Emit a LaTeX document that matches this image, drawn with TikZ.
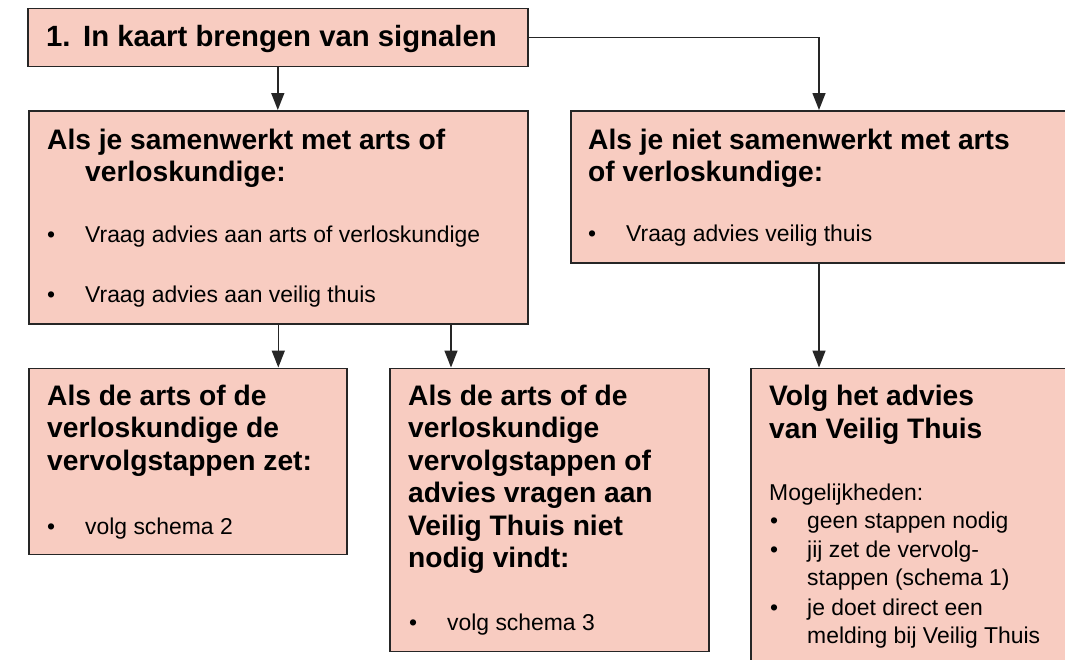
\documentclass[tikz,border=0pt]{standalone}
\usepackage{fontspec}
\setmainfont{Liberation Sans}
\usetikzlibrary{arrows.meta}

\definecolor{boxfill}{RGB}{248,204,193}
\definecolor{boxline}{RGB}{38,38,38}

\tikzset{
  box/.style={draw=boxline, fill=boxfill, line width=1.6pt, anchor=north west, inner sep=0pt},
  head/.style={font=\bfseries\fontsize{28.2}{32.5}\selectfont, align=left, anchor=base west, inner sep=0pt},
  toptitle/.style={head, font=\bfseries\fontsize{29.3}{33}\selectfont},
  body/.style={font=\fontsize{22.9}{28.5}\selectfont, align=left, anchor=base west, inner sep=0pt},
  link/.style={line width=1.5pt, draw=boxline, -{Triangle[width=13pt,length=17pt]}},
}

\begin{document}
\begin{tikzpicture}[x=1pt, y=-1pt]
  \useasboundingbox (0,0) rectangle (1065,659);
  \clip (0,0) rectangle (1065,659);

  % boxes
  \node[box, minimum width=500pt, minimum height=58pt]  (b0) at (27,7.5) {};
  \node[box, minimum width=499pt, minimum height=213pt] (b1) at (28,110) {};
  \node[box, minimum width=510pt, minimum height=152pt] (b2) at (570,110) {};
  \node[box, minimum width=318pt, minimum height=186pt] (b3) at (28,367.5) {};
  \node[box, minimum width=319pt, minimum height=283pt] (b4) at (389,367.5) {};
  \node[box, minimum width=330pt, minimum height=310pt] (b5) at (750,367.5) {};

  % top box (base = last line)
  \node[toptitle] (t0n) at (46,46) {1.};
  \node[toptitle] (t0) at (83,46) {In kaart brengen van signalen};

  % samenwerken
  \node[head] (t1) at (47,181.5) {Als je samenwerkt met arts of\\\hspace*{38pt}verloskundige:};
  \node[body] (t1d1) at (47,242) {•};
  \node[body] (t1a) at (85,242) {Vraag advies aan arts of verloskundige};
  \node[body] (t1d2) at (47,302) {•};
  \node[body] (t1b) at (85,302) {Vraag advies aan veilig thuis};

  % niet samenwerken
  \node[head] (t2) at (588,181.5) {Als je niet samenwerkt met arts\\of verloskundige:};
  \node[body] (t2d1) at (588,241) {•};
  \node[body] (t2a) at (626,241) {Vraag advies veilig thuis};

  % arts zet stappen
  \node[head] (t3) at (47,470) {Als de arts of de\\verloskundige de\\vervolgstappen zet:};
  \node[body] (t3d1) at (47,534) {•};
  \node[body] (t3a) at (85,534) {volg schema 2};

  % arts vindt niet nodig
  \node[head] (t4) at (408,567.5) {Als de arts of de\\verloskundige\\vervolgstappen of\\advies vragen aan\\Veilig Thuis niet\\nodig vindt:};
  \node[body] (t4d1) at (409,630) {•};
  \node[body] (t4a) at (447,630) {volg schema 3};

  % advies veilig thuis
  \node[head] (t5) at (769,438) {Volg het advies\\van Veilig Thuis};
  \node[body] (t5m) at (769,500) {Mogelijkheden:};
  \node[body] (t5d1) at (770,528) {•};
  \node[body] (t5a) at (807,528) {geen stappen nodig};
  \node[body] (t5d2) at (770,557) {•};
  \node[body] (t5b) at (807,585.5) {jij zet de vervolg-\\stappen (schema 1)};
  \node[body] (t5d3) at (770,615) {•};
  \node[body] (t5c) at (807,643.5) {je doet direct een\\melding bij Veilig Thuis};

  % connectors
  \coordinate (c2) at (819,0);
  \coordinate (c4) at (451,0);
  \draw[link] (b0.south) -- (b0.south |- b1.north);
  \draw[link] (b0.east) -| (c2 |- b2.north);
  \draw[link] (b1.south) -- (b1.south |- b3.north);
  \draw[link] (c4 |- b1.south) -- (c4 |- b4.north);
  \draw[link] (c2 |- b2.south) -- (c2 |- b5.north);
\end{tikzpicture}
\end{document}
